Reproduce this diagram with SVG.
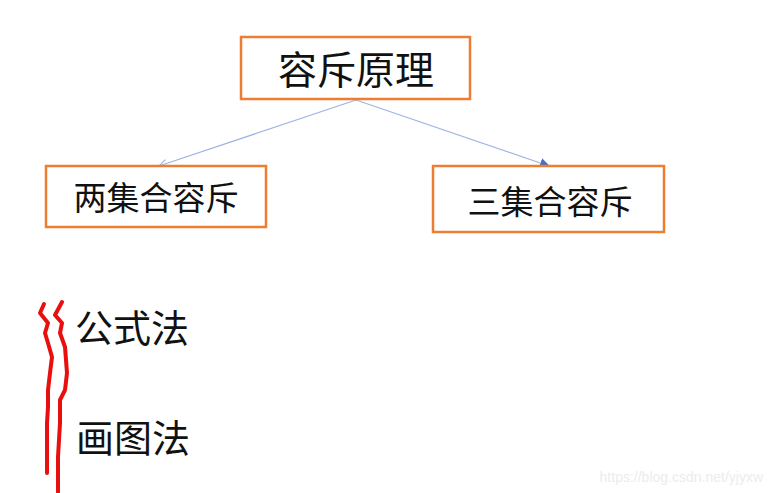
<svg xmlns="http://www.w3.org/2000/svg" width="773" height="493" viewBox="0 0 773 493">
<defs>
<style>
.box{fill:#fff;stroke:#ed7d31;stroke-width:2.5}
.t{font-family:"Noto Sans CJK SC","Noto Sans",sans-serif;fill:#111;text-anchor:middle;dominant-baseline:central}
.c{stroke:#9fb5e2;stroke-width:1.2;fill:none}
</style>
<marker id="open" markerWidth="10" markerHeight="10" refX="9" refY="5" orient="auto" markerUnits="userSpaceOnUse">
<path d="M1,1 L9,5 L1,9" fill="none" stroke="#9fb5e2" stroke-width="1.2"/>
</marker>
<marker id="fill" markerWidth="10" markerHeight="10" refX="9" refY="5" orient="auto" markerUnits="userSpaceOnUse">
<path d="M0,0 L10,5 L0,10 Z" fill="#4472c4"/>
</marker>
</defs>
<rect width="773" height="493" fill="#fff"/>
<g id="connectors">
<line class="c" x1="356" y1="100" x2="159" y2="166" marker-end="url(#open)"/>
<line class="c" x1="356" y1="100" x2="549" y2="166" marker-end="url(#fill)"/>
</g>
<g id="root">
<rect class="box" x="241" y="37" width="229" height="62"/>
<text class="t" x="356" y="67" font-size="39">容斥原理</text>
</g>
<g id="two">
<rect class="box" x="46" y="166" width="220" height="61"/>
<text class="t" x="156" y="196" font-size="33">两集合容斥</text>
</g>
<g id="three">
<rect class="box" x="433" y="166" width="231" height="66"/>
<text class="t" x="550" y="200" font-size="33">三集合容斥</text>
</g>
<g id="methods">
<text class="t" x="132" y="325" font-size="38">公式法</text>
<text class="t" x="133" y="435" font-size="38">画图法</text>
</g>
<g id="squiggle" fill="none" stroke="#e8100f" stroke-width="4" stroke-linecap="round" stroke-linejoin="round">
<path d="M44,304 L40,313 L48,323 L45,333 L48,343 L52,357 L50,373 L48,390 L48,407 L47,423 L47,440 L47,473"/>
<path d="M62,302 L55,315 L62,323 L60,333 L65,347 L67,373 L65,390 L60,400 L60,423 L58,457 L58,492"/>
</g>
<text x="763" y="482" font-family="Liberation Sans,Arial,sans-serif" font-size="14" fill="#ececec" text-anchor="end">https://blog.csdn.net/yjyxw</text>
</svg>
